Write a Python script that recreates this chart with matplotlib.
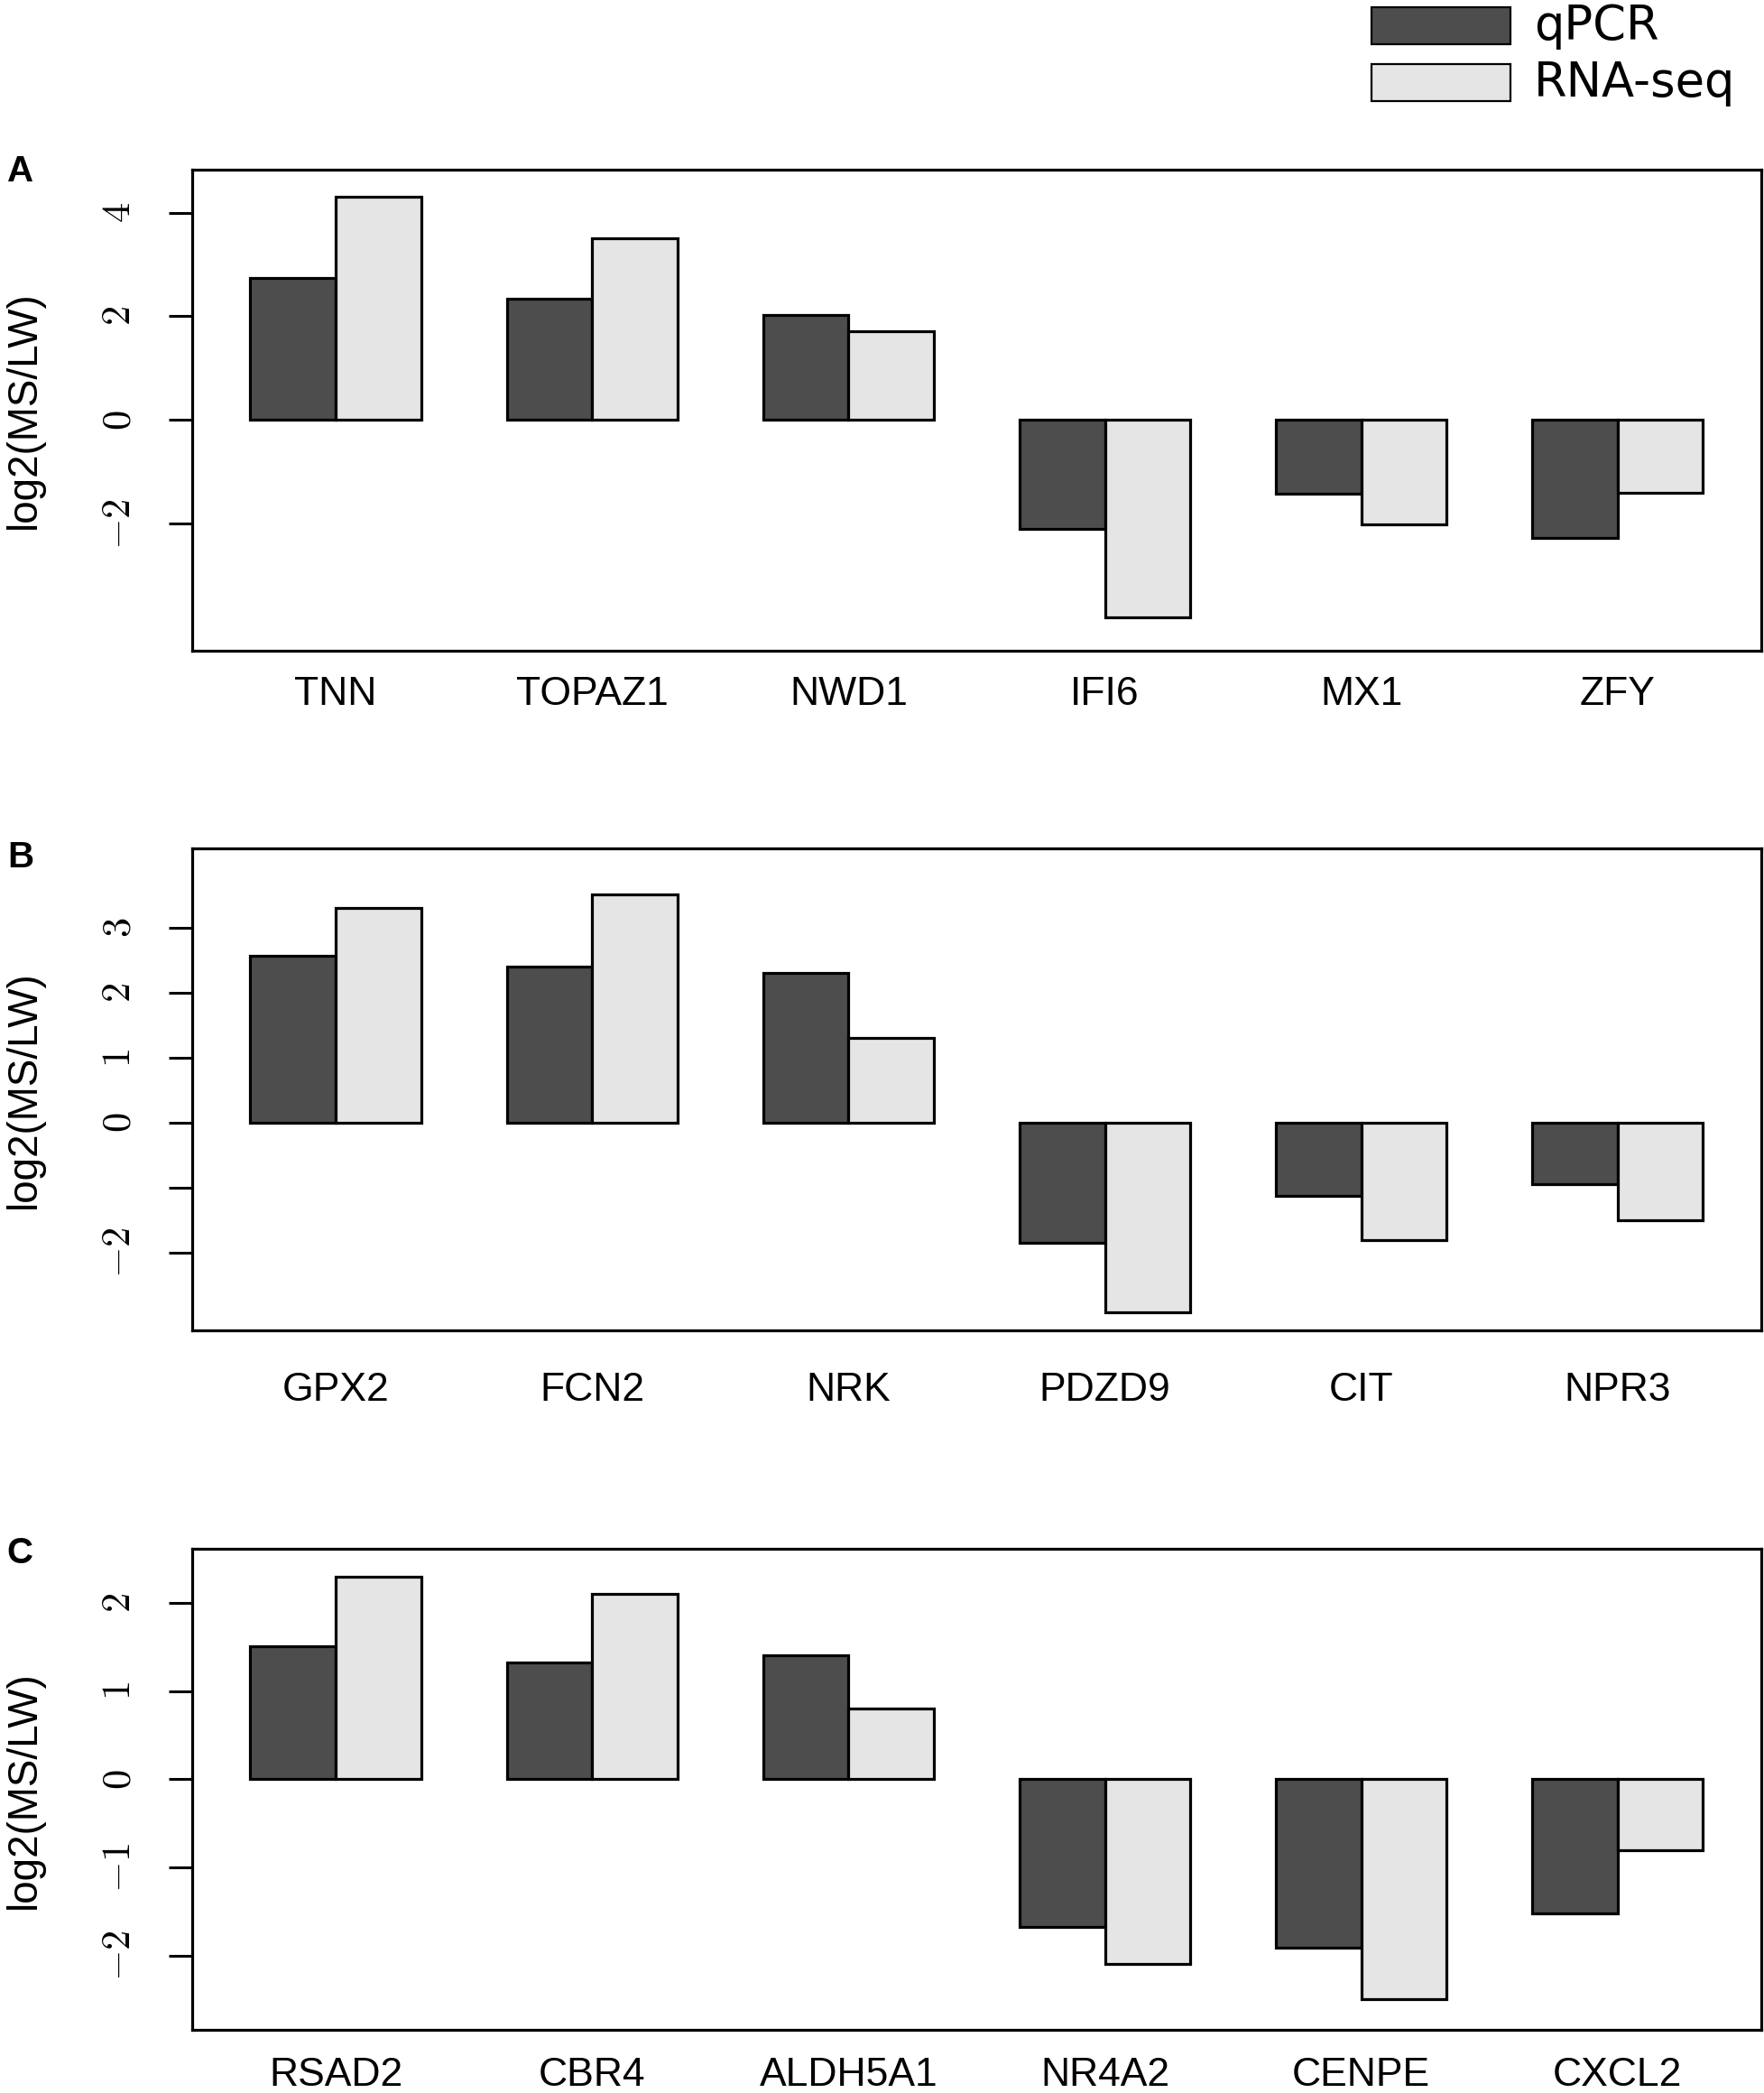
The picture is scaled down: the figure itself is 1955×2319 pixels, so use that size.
import numpy as np
import matplotlib
matplotlib.use('Agg')
import matplotlib.pyplot as plt
from matplotlib.patches import Rectangle

plt.rcParams['mathtext.fontset'] = 'cm'

# data (log2 MS/LW)
genes_a = ['TNN', 'TOPAZ1', 'NWD1', 'IFI6', 'MX1', 'ZFY']
qpcr_a = [2.74, 2.34, 2.03, -2.10, -1.42, -2.28]
rnaseq_a = [4.31, 3.51, 1.71, -3.81, -2.01, -1.40]

genes_b = ['GPX2', 'FCN2', 'NRK', 'PDZD9', 'CIT', 'NPR3']
qpcr_b = [2.57, 2.40, 2.31, -1.84, -1.13, -0.95]
rnaseq_b = [3.31, 3.52, 1.31, -2.91, -1.80, -1.50]

genes_c = ['RSAD2', 'CBR4', 'ALDH5A1', 'NR4A2', 'CENPE', 'CXCL2']
qpcr_c = [1.51, 1.32, 1.40, -1.67, -1.91, -1.52]
rnaseq_c = [2.29, 2.10, 0.80, -2.09, -2.49, -0.80]

yticks_a = [-2, 0, 2, 4]
yticks_b = [-2, -1, 0, 1, 2, 3]
yticks_c = [-2, -1, 0, 1, 2]

dark = '#4D4D4D'
light = '#E5E5E5'
sans = 'Liberation Sans'

fig = plt.figure(figsize=(19.56, 23.19), dpi=100)

# letter, genes, qPCR, RNA-seq, ticks, which tick labels show, ylim, axes bottom, x label pad, letter y
panels = [
    ('A', genes_a, qpcr_a, rnaseq_a, yticks_a, [True, True, True, True], (-4.45, 4.83), 0.689, 20, 0.9262),
    ('B', genes_b, qpcr_b, rnaseq_b, yticks_b, [True, False, True, True, True, True], (-3.19, 4.22), 0.3645, 33, 0.5985),
    ('C', genes_c, qpcr_c, rnaseq_c, yticks_c, [True] * 5, (-2.84, 2.61), 0.030, 21, 0.2660),
]

for letter, genes, q, r, ticks, show, ylim, bottom, xpad, ly in panels:
    ax = fig.add_axes([0.1089, bottom, 0.889, 0.230])
    n = len(genes)
    pos = np.arange(n) * 3 + 1.5
    ax.bar(pos, q, width=1, color=dark, edgecolor='black', linewidth=2.3)
    ax.bar(pos + 1, r, width=1, color=light, edgecolor='black', linewidth=2.3)
    ax.set_xlim(0.32, 18.68)
    ax.set_ylim(*ylim)
    ax.set_xticks(pos + 0.5)
    ax.set_xticklabels(genes, fontsize=32, family=sans)
    ax.tick_params(axis='x', length=0, pad=xpad)
    ax.set_yticks(ticks)
    labels = []
    for t, s in zip(ticks, show):
        if s:
            labels.append(r'$%s$' % ('-%d' % abs(t) if t < 0 else '%d' % t))
        else:
            labels.append('')
    ax.set_yticklabels(labels, fontsize=32, rotation=90, va='center')
    ax.tick_params(axis='y', length=19, width=2.2, pad=24)
    for sp in ax.spines.values():
        sp.set_linewidth(2.3)
    # y label and panel letter in figure coords
    yc = bottom + 0.115
    fig.text(0.0135, yc, 'log2(MS/LW)', rotation=90, ha='center', va='center',
             fontsize=33, family=sans)
    fig.text(0.004, ly, letter, ha='left', va='top', fontsize=29,
             fontweight='bold', family=sans)

# legend at top right
for i, (lab, col) in enumerate([('qPCR', dark), ('RNA-seq', light)]):
    y0 = 0.9789 - i * 0.0272
    fig.add_artist(Rectangle((0.7771, y0), 0.0787, 0.0175, transform=fig.transFigure,
                             facecolor=col, edgecolor='black', linewidth=1.6))
    fig.text(0.869, y0 + 0.0085, lab, ha='left', va='center', fontsize=38,
             family='DejaVu Sans')

fig.savefig('out.png', dpi=100)
